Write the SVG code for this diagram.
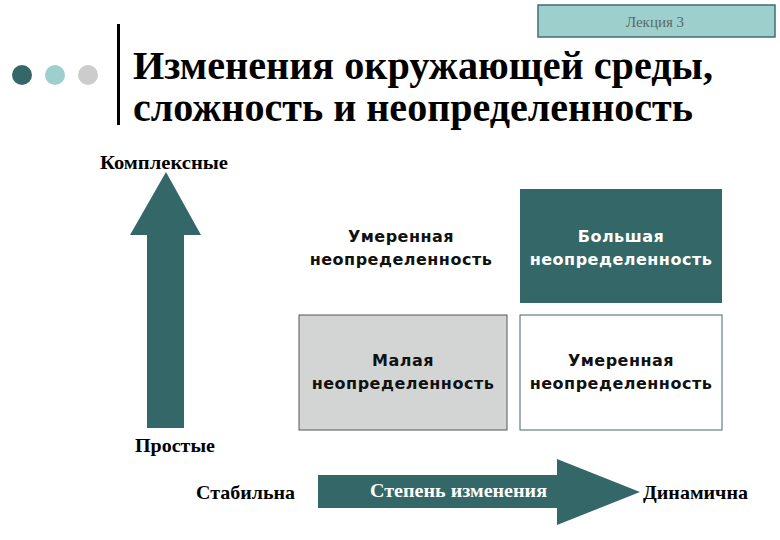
<svg xmlns="http://www.w3.org/2000/svg" width="780" height="540" viewBox="0 0 780 540">
<style>
.serifb{font-family:"Liberation Serif","Times New Roman",serif;font-weight:bold;fill:#000}
.sans{font-family:"DejaVu Sans","Verdana",sans-serif;font-weight:bold;font-size:16px;letter-spacing:0.5px;text-anchor:middle;fill:#111}
.teal{fill:#346767}
</style>
<rect width="780" height="540" fill="#fff"/>
<g id="header">
<rect x="538" y="5" width="237" height="32" fill="#9dcfcd" stroke="#3f6e6e" stroke-width="1.5"/>
<text x="655" y="27" font-family="Liberation Serif,serif" font-size="15" fill="#5a6a6a" text-anchor="middle">Лекция 3</text>
<circle cx="22" cy="75" r="10" fill="#346767"/>
<circle cx="55" cy="75" r="10" fill="#9dcfcd"/>
<circle cx="88" cy="75" r="10" fill="#cccccc"/>
<rect x="117" y="24" width="3" height="101" fill="#000"/>
<text class="serifb" x="133" y="79" font-size="40" textLength="580" lengthAdjust="spacingAndGlyphs">Изменения окружающей среды,</text>
<text class="serifb" x="133" y="121" font-size="40" textLength="560" lengthAdjust="spacingAndGlyphs">сложность и неопределенность</text>
</g>
<g id="axis-y">
<polygon class="teal" points="166,172 201,235 184,235 184,428 147,428 147,235 130,235"/>
<text class="serifb" x="100" y="169" font-size="19" textLength="128" lengthAdjust="spacingAndGlyphs">Комплексные</text>
<text class="serifb" x="135" y="452" font-size="19" textLength="80" lengthAdjust="spacingAndGlyphs">Простые</text>
</g>
<g id="axis-x">
<polygon class="teal" points="318,475 557,475 557,459 640,492 557,525 557,508 318,508"/>
<text class="serifb" x="370" y="497" font-size="19" textLength="177" lengthAdjust="spacingAndGlyphs" style="fill:#fff">Степень изменения</text>
<text class="serifb" x="196" y="499" font-size="19" textLength="99" lengthAdjust="spacingAndGlyphs">Стабильна</text>
<text class="serifb" x="643" y="499" font-size="19" textLength="105" lengthAdjust="spacingAndGlyphs">Динамична</text>
</g>
<g id="cell-top-left">
<text class="sans" x="401" y="242">Умеренная</text>
<text class="sans" x="401" y="265">неопределенность</text>
</g>
<g id="cell-top-right">
<rect x="520" y="189" width="202" height="114" fill="#346767"/>
<text class="sans" x="621" y="242" style="fill:#fff">Большая</text>
<text class="sans" x="621" y="265" style="fill:#fff">неопределенность</text>
</g>
<g id="cell-bottom-left">
<rect x="299" y="315" width="208" height="115" fill="#d3d5d5" stroke="#555" stroke-width="1"/>
<text class="sans" x="403" y="366">Малая</text>
<text class="sans" x="403" y="389">неопределенность</text>
</g>
<g id="cell-bottom-right">
<rect x="520" y="315" width="202" height="115" fill="#fff" stroke="#446666" stroke-width="1"/>
<text class="sans" x="621" y="366">Умеренная</text>
<text class="sans" x="621" y="389">неопределенность</text>
</g>
</svg>
